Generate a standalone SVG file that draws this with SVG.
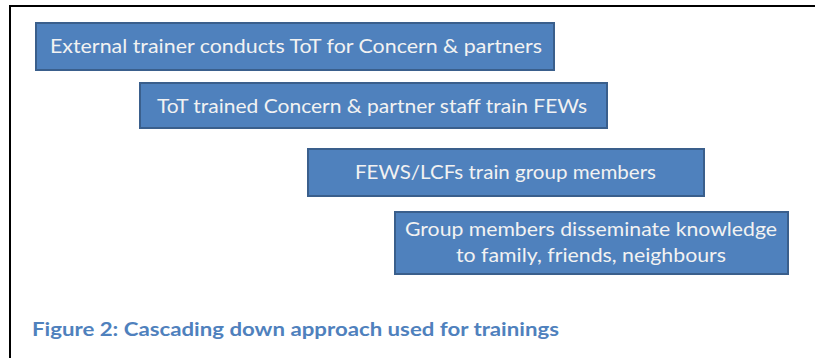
<svg xmlns="http://www.w3.org/2000/svg" width="815" height="358" viewBox="0 0 815 358">
  <style>
    .box { fill: #4F81BD; stroke: #3A5F8C; stroke-width: 2; }
    .label { font-family: Lato, "Open Sans", "Liberation Sans", sans-serif; font-size: 20px; fill: #F2F2F2; }
    .caption { font-family: Lato, "Open Sans", "Liberation Sans", sans-serif; font-size: 18px; font-weight: bold; fill: #4F81BD; }
  </style>
  <rect width="815" height="358" fill="#FFFFFF"/>
  <!-- page frame, running off the right and bottom edges -->
  <path d="M10 362 V6 H820" fill="none" stroke="#000000" stroke-width="2"/>

  <g id="connectors"/>

  <g id="step1">
    <rect class="box" x="36" y="23" width="518" height="47"/>
    <text class="label" x="50" y="53" textLength="492" lengthAdjust="spacingAndGlyphs">External trainer conducts  ToT for Concern &amp; partners</text>
  </g>
  <g id="step2">
    <rect class="box" x="140" y="83" width="467" height="45"/>
    <text class="label" x="157" y="113" textLength="430" lengthAdjust="spacingAndGlyphs">ToT trained Concern &amp; partner staff train FEWs</text>
  </g>
  <g id="step3">
    <rect class="box" x="308" y="149" width="396" height="47"/>
    <text class="label" x="355" y="179" textLength="301" lengthAdjust="spacingAndGlyphs">FEWS/LCFs train group members</text>
  </g>
  <g id="step4">
    <rect class="box" x="395" y="212" width="393" height="62"/>
    <text class="label" x="405" y="236" textLength="372" lengthAdjust="spacingAndGlyphs">Group members disseminate knowledge</text>
    <text class="label" x="456" y="262" textLength="270" lengthAdjust="spacingAndGlyphs">to family, friends, neighbours</text>
  </g>

  <text class="caption" x="32" y="336" textLength="527" lengthAdjust="spacingAndGlyphs">Figure 2: Cascading down approach used for trainings</text>
</svg>
